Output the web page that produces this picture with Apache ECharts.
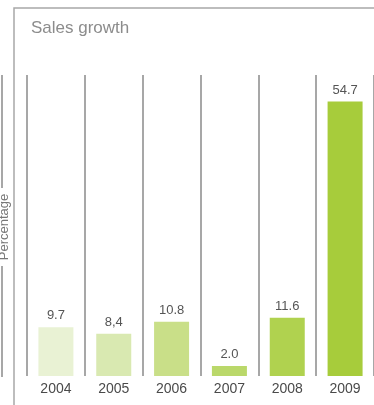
<!DOCTYPE html>
<html>
<head>
<meta charset="utf-8">
<style>
  html, body { margin: 0; padding: 0; background: #fff; }
  #chart { width: 374px; height: 405px; }
</style>
<script src="https://cdn.jsdelivr.net/npm/echarts@6/dist/echarts.min.js"></script>
</head>
<body>
<div id="chart"></div>
<script>
// Annual sales growth, percent
const years = ['2004', '2005', '2006', '2007', '2008', '2009'];
const growth = [9.7, 8.4, 10.8, 2.0, 11.6, 54.7];
const growthLabels = ['9.7', '8,4', '10.8', '2.0', '11.6', '54.7'];
const barColors = ['#e9f2d4', '#d9e9b1', '#c9df88', '#bad86a', '#b0d24f', '#a7cc3b'];

const chart = echarts.init(document.getElementById('chart'), null, { renderer: 'canvas' });

const lineStyle = { stroke: '#8a8a8a', lineWidth: 1.5 };

chart.setOption({
  animation: false,
  backgroundColor: '#ffffff',
  title: {
    text: 'Sales growth',
    left: 26,
    top: 15,
    textStyle: { fontFamily: 'Liberation Sans', fontSize: 17, fontWeight: 'normal', color: '#8c8c8c' }
  },
  grid: { left: 27, top: 75, width: 348, bottom: 29 },
  xAxis: {
    type: 'category',
    data: years,
    axisLine: { show: false },
    axisTick: { show: false },
    axisLabel: { margin: 6, fontFamily: 'Liberation Sans', fontSize: 14, color: '#4a4a4a' },
    splitLine: { show: true, lineStyle: { color: '#8a8a8a', width: 1.5 } }
  },
  yAxis: {
    type: 'value',
    min: 0,
    max: 60,
    show: false,
    splitLine: { show: false }
  },
  series: [{
    type: 'bar',
    barWidth: 35,
    data: growth.map((v, i) => ({ value: v, itemStyle: { color: barColors[i] } })),
    label: {
      show: true,
      position: 'top',
      distance: 5,
      fontFamily: 'Liberation Sans',
      fontSize: 13,
      color: '#555555',
      formatter: p => growthLabels[p.dataIndex]
    }
  }],
  graphic: [
    // outer frame: left edge and top edge
    { type: 'polyline', shape: { points: [[14, 405], [14, 8], [374, 8]] }, style: { stroke: '#a8a8a8', lineWidth: 1.5, fill: null } },
    // axis title line with gap for the rotated text
    { type: 'line', shape: { x1: 2, y1: 75, x2: 2, y2: 188 }, style: lineStyle },
    { type: 'line', shape: { x1: 2, y1: 266, x2: 2, y2: 377 }, style: lineStyle },
    {
      type: 'text',
      x: 4, y: 227,
      rotation: Math.PI / 2,
      style: { text: 'Percentage', fontFamily: 'Liberation Sans', fontSize: 13, fill: '#777777', align: 'center', verticalAlign: 'middle' }
    }
  ]
});
</script>
</body>
</html>
